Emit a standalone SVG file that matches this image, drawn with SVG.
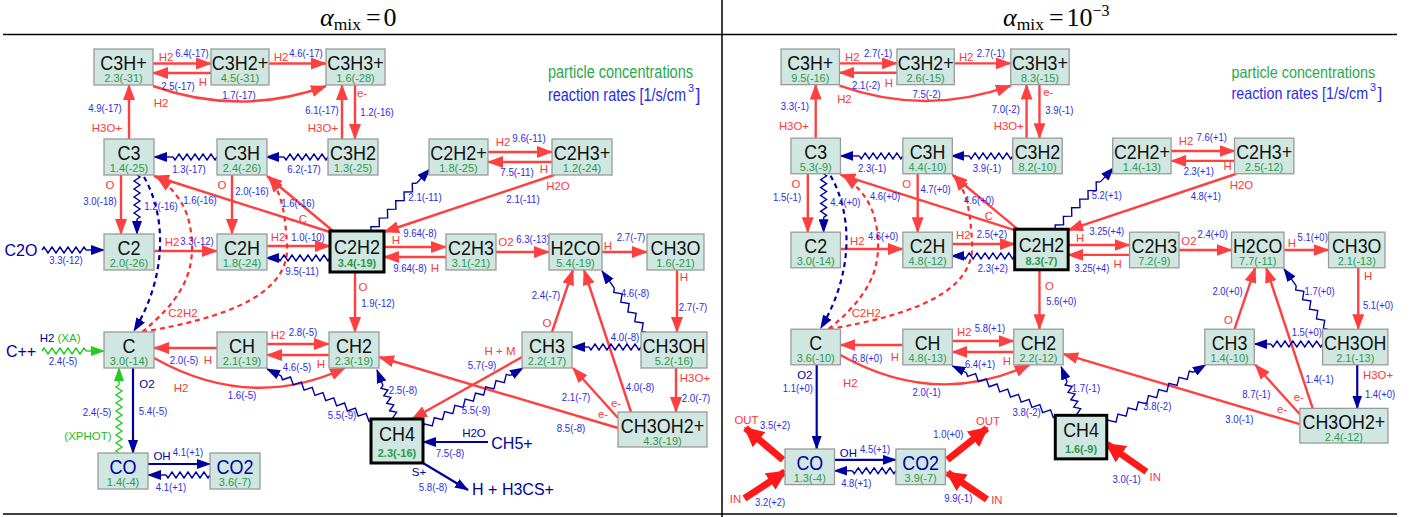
<svg xmlns="http://www.w3.org/2000/svg" xmlns:xlink="http://www.w3.org/1999/xlink" width="1416" height="517" viewBox="0 0 1416 517">
<style>
.nd rect{fill:#d0e6e0;stroke:#9a9a9a;stroke-width:1.3}
.nd.thick rect{stroke:#000;stroke-width:3}
.nm{font-family:"Liberation Sans",Arial,sans-serif;font-size:21px;fill:#111;text-anchor:middle}
.cc{font-family:"Liberation Sans",Arial,sans-serif;font-size:11px;fill:#2a9a48;text-anchor:middle}
.nd.thick .cc{font-weight:bold}
.nd.blu .nm{fill:#0000a0}
.rt{font-family:"Liberation Sans",Arial,sans-serif;font-size:11.5px;fill:#2b2be6;text-anchor:middle}
.rl{font-family:"Liberation Sans",Arial,sans-serif;font-size:11.5px;fill:#ff3838;text-anchor:middle}
.nl{font-family:"Liberation Sans",Arial,sans-serif;font-size:11.5px;fill:#0000a0;text-anchor:middle}
.gl{font-family:"Liberation Sans",Arial,sans-serif;font-size:11.5px;fill:#22bb22;text-anchor:middle}
.ext{font-family:"Liberation Sans",Arial,sans-serif;font-size:16px;fill:#0000a0;text-anchor:middle}
.lg{font-family:"Liberation Sans",Arial,sans-serif;font-size:17.5px}
.sup{font-family:"Liberation Sans",Arial,sans-serif;font-size:11px}
.ttl{font-family:"Liberation Serif","Times New Roman",serif;font-size:26px;fill:#000}
.r{fill:none;stroke:#ff4040;stroke-width:2.4;marker-end:url(#mr)}
.b{fill:none;stroke:#0000a0;stroke-width:2.2;marker-end:url(#mb)}
.dr{fill:none;stroke:#ff2a2a;stroke-width:2.2;stroke-dasharray:5 4;marker-end:url(#mr)}
.db{fill:none;stroke:#0000a0;stroke-width:2.2;stroke-dasharray:5 4;marker-end:url(#mb)}
.wb{fill:none;stroke:#0000a0;stroke-width:1.4}
.wg{fill:none;stroke:#22cc22;stroke-width:1.4}
.wb .e{marker-end:url(#mb)}
.wg .e{marker-end:url(#mg)}
.big{fill:none;stroke:#ff1a1a;stroke-width:7;marker-end:url(#mt)}
.frame line{stroke:#000;stroke-width:1.5}
</style>
<defs>
<marker id="mr" viewBox="0 0 16 12" refX="15" refY="6" markerWidth="16" markerHeight="12" markerUnits="userSpaceOnUse" orient="auto"><path d="M0 0L16 6L0 12z" fill="#ff4040"/></marker>
<marker id="mb" viewBox="0 0 14 10" refX="13" refY="5" markerWidth="14" markerHeight="10" markerUnits="userSpaceOnUse" orient="auto"><path d="M0 0L14 5L0 10z" fill="#0000a0"/></marker>
<marker id="mg" viewBox="0 0 14 10" refX="13" refY="5" markerWidth="14" markerHeight="10" markerUnits="userSpaceOnUse" orient="auto"><path d="M0 0L14 5L0 10z" fill="#22cc22"/></marker>
<marker id="mt" viewBox="0 0 20 20" refX="18" refY="10" markerWidth="20" markerHeight="20" markerUnits="userSpaceOnUse" orient="auto"><path d="M0 0L20 10L0 20z" fill="#ff1a1a"/></marker>
<path id="zh4" d="M0 0l2 -3l4 6l4 -6l4 6l4 -6l4 6l4 -6l4 6l4 -6l2 3"/>
<path id="zh5" d="M0 0l2 -3l4 6l4 -6l4 6l4 -6l4 6l4 -6l4 6l4 -6l4 6l4 -6l2 3"/>
<path id="zh6" d="M0 0l2 -3l4 6l4 -6l4 6l4 -6l4 6l4 -6l4 6l4 -6l4 6l4 -6l4 6l4 -6l2 3"/>
<path id="zh8" d="M0 0l2 -3l4 6l4 -6l4 6l4 -6l4 6l4 -6l4 6l4 -6l4 6l4 -6l4 6l4 -6l4 6l4 -6l4 6l4 -6l2 3"/>
<path id="zd4" d="M0 0l3 -3l6 6l6 -6l6 6l6 -6l6 6l6 -6l6 6l6 -6l3 3"/>
<path id="zd5" d="M0 0l3 -3l6 6l6 -6l6 6l6 -6l6 6l6 -6l6 6l6 -6l6 6l6 -6l3 3"/>
<path id="zd8" d="M0 0l3 -3l6 6l6 -6l6 6l6 -6l6 6l6 -6l6 6l6 -6l6 6l6 -6l6 6l6 -6l6 6l6 -6l6 6l6 -6l3 3"/>
</defs>
<rect width="1416" height="517" fill="#fff"/>
<g class="frame">
<line x1="3" y1="34.5" x2="1397" y2="34.5"/>
<line x1="3" y1="514" x2="1397" y2="514"/>
<line x1="722" y1="0" x2="722" y2="517"/>
</g>
<text class="ttl" x="320" y="26"><tspan font-style="italic">α</tspan><tspan font-size="17.5" dy="3.5">mix</tspan><tspan dy="-3.5" dx="5">=</tspan><tspan dx="3">0</tspan></text>
<text class="ttl" x="1003" y="26"><tspan font-style="italic">α</tspan><tspan font-size="17.5" dy="3.5">mix</tspan><tspan dy="-3.5" dx="5">=</tspan><tspan dx="3">10</tspan><tspan font-size="16" dy="-10">−3</tspan></text>

<g id="left-panel">
<g id="L-edges">
<path class="r" d="M153 63.5H211"/>
<path class="r" d="M211 73H153"/>
<path class="r" d="M269 63.5H326"/>
<path class="r" d="M153 86Q240 117 326 86"/>
<path class="r" d="M129 139V85"/>
<path class="r" d="M342 139V85"/>
<path class="r" d="M355 85V139"/>
<path class="r" d="M121 175V234"/>
<path class="r" d="M232 175V234"/>
<path class="r" d="M330 232L154 176"/>
<path class="r" d="M333 231L267 176"/>
<path class="r" d="M154 251H217"/>
<path class="r" d="M267 246H330"/>
<path class="r" d="M488 152H552"/>
<path class="r" d="M552 162H488"/>
<path class="r" d="M554 175L384 232"/>
<path class="r" d="M384 247H446"/>
<path class="r" d="M446 257H384"/>
<path class="r" d="M496 252H549"/>
<path class="r" d="M602 252H647"/>
<path class="r" d="M677 270V332"/>
<path class="r" d="M552 332L573 270"/>
<path class="r" d="M631 412L584 270"/>
<path class="r" d="M676 368V412"/>
<path class="r" d="M618 418L573 368"/>
<path class="r" d="M618 428L379 357"/>
<path class="r" d="M522 357L412 419"/>
<path class="r" d="M217 348H154"/>
<path class="r" d="M267 344H329"/>
<path class="r" d="M329 355H267"/>
<path class="r" d="M154 358Q250 412 345 368"/>
<path class="r" d="M355 272V332"/>
<path class="dr" d="M142 332C175 305 193 280 192 245C191 215 182 195 157 177"/>
<path class="dr" d="M142 332C225 318 290 295 287 245C285 215 283 195 269 177"/>
<path class="db" d="M144 177C166 215 168 275 134 331"/>
<path class="b" d="M133 368V453"/>
<path class="b" d="M148 464H210"/>
<path class="b" d="M488 442H423"/>
<path class="b" d="M423 463L468 490"/>
<g class="wb" transform="translate(217 157) rotate(180)"><use xlink:href="#zh5"/><path class="e" d="M44 0H63"/></g>
<g class="wb" transform="translate(328 157) rotate(180)"><use xlink:href="#zh5"/><path class="e" d="M44 0H62"/></g>
<g class="wb" transform="translate(137 175) rotate(90)"><use xlink:href="#zh5"/><path class="e" d="M44 0H59"/></g>
<g class="wb" transform="translate(42 250)"><use xlink:href="#zh5"/><path class="e" d="M44 0H62"/></g>
<g class="wb" transform="translate(330 258) rotate(180)"><use xlink:href="#zh6"/><path class="e" d="M52 0H64"/></g>
<g class="wb" transform="translate(371 231) rotate(-46.4)"><use xlink:href="#zd5"/><path class="e" d="M66 0H85.6"/></g>
<g class="wb" transform="translate(646 332) rotate(-125.8)"><use xlink:href="#zd4"/><path class="e" d="M54 0H75.2"/></g>
<g class="wb" transform="translate(641 347) rotate(180)"><use xlink:href="#zh6"/><path class="e" d="M52 0H69"/></g>
<g class="wb" transform="translate(423 428) rotate(-31)"><use xlink:href="#zd8"/><path class="e" d="M102 0H116.6"/></g>
<g class="wb" transform="translate(396 419) rotate(-111.2)"><use xlink:href="#zh4"/><path class="e" d="M36 0H52.6"/></g>
<g class="wb" transform="translate(373 420) rotate(-154.3)"><use xlink:href="#zd8"/><path class="e" d="M102 0H117.6"/></g>
<g class="wg" transform="translate(119 453) rotate(-90)"><use xlink:href="#zh8"/><path class="e" d="M68 0H85"/></g>
<g class="wg" transform="translate(42 351)"><use xlink:href="#zh5"/><path class="e" d="M44 0H62"/></g>
<g class="wb" transform="translate(210 475) rotate(180)"><use xlink:href="#zh5"/><path class="e" d="M44 0H62"/></g>
</g>
<g id="L-labels">
<text class="rt" x="192" y="57" textLength="33.5" lengthAdjust="spacingAndGlyphs">6.4(-17)</text>
<text class="rt" x="178" y="90" textLength="33.5" lengthAdjust="spacingAndGlyphs">2.5(-17)</text>
<text class="rt" x="306" y="57" textLength="33.5" lengthAdjust="spacingAndGlyphs">4.6(-17)</text>
<text class="rt" x="239" y="99" textLength="33.5" lengthAdjust="spacingAndGlyphs">1.7(-17)</text>
<text class="rt" x="105" y="112" textLength="33.5" lengthAdjust="spacingAndGlyphs">4.9(-17)</text>
<text class="rt" x="322" y="114" textLength="33.5" lengthAdjust="spacingAndGlyphs">6.1(-17)</text>
<text class="rt" x="377" y="116" textLength="33.5" lengthAdjust="spacingAndGlyphs">1.2(-16)</text>
<text class="rt" x="189" y="173" textLength="33.5" lengthAdjust="spacingAndGlyphs">1.3(-17)</text>
<text class="rt" x="304" y="173" textLength="33.5" lengthAdjust="spacingAndGlyphs">6.2(-17)</text>
<text class="rt" x="100" y="205" textLength="33.5" lengthAdjust="spacingAndGlyphs">3.0(-18)</text>
<text class="rt" x="161" y="210" textLength="33.5" lengthAdjust="spacingAndGlyphs">1.2(-16)</text>
<text class="rt" x="252" y="195" textLength="33.5" lengthAdjust="spacingAndGlyphs">2.0(-16)</text>
<text class="rt" x="200" y="204" textLength="33.5" lengthAdjust="spacingAndGlyphs">1.6(-16)</text>
<text class="rt" x="298" y="207" textLength="33.5" lengthAdjust="spacingAndGlyphs">1.6(-16)</text>
<text class="rt" x="197" y="245" textLength="33.5" lengthAdjust="spacingAndGlyphs">3.3(-12)</text>
<text class="rt" x="66" y="264" textLength="33.5" lengthAdjust="spacingAndGlyphs">3.3(-12)</text>
<text class="rt" x="308" y="241" textLength="33.5" lengthAdjust="spacingAndGlyphs">1.0(-10)</text>
<text class="rt" x="302" y="275" textLength="33.5" lengthAdjust="spacingAndGlyphs">9.5(-11)</text>
<text class="rt" x="425" y="201" textLength="33.5" lengthAdjust="spacingAndGlyphs">2.1(-11)</text>
<text class="rt" x="529" y="142" textLength="33.5" lengthAdjust="spacingAndGlyphs">9.6(-11)</text>
<text class="rt" x="517" y="176" textLength="33.5" lengthAdjust="spacingAndGlyphs">7.5(-11)</text>
<text class="rt" x="523" y="203" textLength="33.5" lengthAdjust="spacingAndGlyphs">2.1(-11)</text>
<text class="rt" x="420" y="237" textLength="33.5" lengthAdjust="spacingAndGlyphs">9.64(-8)</text>
<text class="rt" x="410" y="272" textLength="33.5" lengthAdjust="spacingAndGlyphs">9.64(-8)</text>
<text class="rt" x="533" y="243" textLength="33.5" lengthAdjust="spacingAndGlyphs">6.3(-13)</text>
<text class="rt" x="631" y="241" textLength="28.5" lengthAdjust="spacingAndGlyphs">2.7(-7)</text>
<text class="rt" x="693" y="311" textLength="28.5" lengthAdjust="spacingAndGlyphs">2.7(-7)</text>
<text class="rt" x="635" y="297" textLength="28.5" lengthAdjust="spacingAndGlyphs">4.6(-8)</text>
<text class="rt" x="625" y="341" textLength="28.5" lengthAdjust="spacingAndGlyphs">4.0(-8)</text>
<text class="rt" x="546" y="299" textLength="28.5" lengthAdjust="spacingAndGlyphs">2.4(-7)</text>
<text class="rt" x="640" y="391" textLength="28.5" lengthAdjust="spacingAndGlyphs">4.0(-8)</text>
<text class="rt" x="696" y="402" textLength="28.5" lengthAdjust="spacingAndGlyphs">2.0(-7)</text>
<text class="rt" x="576" y="401" textLength="28.5" lengthAdjust="spacingAndGlyphs">2.1(-7)</text>
<text class="rt" x="571" y="432" textLength="28.5" lengthAdjust="spacingAndGlyphs">8.5(-8)</text>
<text class="rt" x="482" y="369" textLength="28.5" lengthAdjust="spacingAndGlyphs">5.7(-9)</text>
<text class="rt" x="476" y="414" textLength="28.5" lengthAdjust="spacingAndGlyphs">5.5(-9)</text>
<text class="rt" x="403" y="394" textLength="28.5" lengthAdjust="spacingAndGlyphs">2.5(-8)</text>
<text class="rt" x="342" y="419" textLength="28.5" lengthAdjust="spacingAndGlyphs">5.5(-9)</text>
<text class="rt" x="450" y="457" textLength="28.5" lengthAdjust="spacingAndGlyphs">7.5(-8)</text>
<text class="rt" x="433" y="491" textLength="28.5" lengthAdjust="spacingAndGlyphs">5.8(-8)</text>
<text class="rt" x="184" y="364" textLength="28.5" lengthAdjust="spacingAndGlyphs">2.0(-5)</text>
<text class="rt" x="303" y="336" textLength="28.5" lengthAdjust="spacingAndGlyphs">2.8(-5)</text>
<text class="rt" x="297" y="371" textLength="28.5" lengthAdjust="spacingAndGlyphs">4.6(-5)</text>
<text class="rt" x="242" y="399" textLength="28.5" lengthAdjust="spacingAndGlyphs">1.6(-5)</text>
<text class="rt" x="378" y="307" textLength="33.5" lengthAdjust="spacingAndGlyphs">1.9(-12)</text>
<text class="rt" x="153" y="415" textLength="28.5" lengthAdjust="spacingAndGlyphs">5.4(-5)</text>
<text class="rt" x="97" y="416" textLength="28.5" lengthAdjust="spacingAndGlyphs">2.4(-5)</text>
<text class="rt" x="63" y="365" textLength="28.5" lengthAdjust="spacingAndGlyphs">2.4(-5)</text>
<text class="rt" x="188" y="456" textLength="30.5" lengthAdjust="spacingAndGlyphs">4.1(+1)</text>
<text class="rt" x="171" y="491" textLength="30.5" lengthAdjust="spacingAndGlyphs">4.1(+1)</text>
<text class="rl" x="166" y="61">H2</text>
<text class="rl" x="203" y="86">H</text>
<text class="rl" x="281" y="61">H2</text>
<text class="rl" x="161" y="107">H2</text>
<text class="rl" x="107" y="132">H3O+</text>
<text class="rl" x="323" y="132">H3O+</text>
<text class="rl" x="362" y="97">e-</text>
<text class="rl" x="110" y="189">O</text>
<text class="rl" x="222" y="189">O</text>
<text class="rl" x="303" y="223">C</text>
<text class="rl" x="172" y="246">H2</text>
<text class="rl" x="278" y="241">H2</text>
<text class="rl" x="503" y="146">H2</text>
<text class="rl" x="544" y="173">H</text>
<text class="rl" x="558" y="190">H2O</text>
<text class="rl" x="396" y="244">H</text>
<text class="rl" x="435" y="272">H</text>
<text class="rl" x="506" y="246">O2</text>
<text class="rl" x="608" y="250">H</text>
<text class="rl" x="684" y="281">H</text>
<text class="rl" x="547" y="327">O</text>
<text class="rl" x="695" y="382">H3O+</text>
<text class="rl" x="616" y="407">e-</text>
<text class="rl" x="603" y="418">e-</text>
<text class="rl" x="500" y="355">H + M</text>
<text class="rl" x="208" y="364">H</text>
<text class="rl" x="278" y="339">H2</text>
<text class="rl" x="321" y="368">H</text>
<text class="rl" x="181" y="392">H2</text>
<text class="rl" x="363" y="291">O</text>
<text class="rl" x="183" y="317">C2H2</text>
<text class="nl" x="474" y="437">H2O</text>
<text class="nl" x="419" y="476">S+</text>
<text class="nl" x="147" y="388">O2</text>
<text class="nl" x="47" y="342">H2</text>
<text class="nl" x="162" y="460">OH</text>
<text class="gl" x="69" y="342">(XA)</text>
<text class="gl" x="88" y="440">(XPHOT)</text>
<text class="ext" x="21" y="256">C2O</text>
<text class="ext" x="21" y="357">C++</text>
<text class="ext" x="512" y="449">CH5+</text>
<text class="ext" x="513" y="495">H + H3CS+</text>
<text class="lg" x="548" y="78" fill="#2aa84a" textLength="145" lengthAdjust="spacingAndGlyphs">particle concentrations</text>
<text class="lg" x="548" y="101" fill="#2b2be6" textLength="138" lengthAdjust="spacingAndGlyphs">reaction rates [1/s/cm</text>
<text class="sup" x="688" y="92" fill="#2b2be6">3</text>
<text class="lg" x="695.5" y="101" fill="#2b2be6">]</text>
</g>
<g id="L-nodes">
<g id="L-C3Hp" class="nd"><rect x="94" y="49" width="59" height="36"/><text class="nm" x="123.5" y="70" textLength="46.5" lengthAdjust="spacingAndGlyphs">C3H+</text><text class="cc" x="123.5" y="82">2.3(-31)</text></g>
<g id="L-C3H2p" class="nd"><rect x="211" y="49" width="58" height="36"/><text class="nm" x="240" y="70" textLength="56.5" lengthAdjust="spacingAndGlyphs">C3H2+</text><text class="cc" x="240" y="82">4.5(-31)</text></g>
<g id="L-C3H3p" class="nd"><rect x="326" y="49" width="59" height="36"/><text class="nm" x="355.5" y="70" textLength="56.5" lengthAdjust="spacingAndGlyphs">C3H3+</text><text class="cc" x="355.5" y="82">1.6(-28)</text></g>
<g id="L-C3" class="nd"><rect x="104" y="139" width="50" height="36"/><text class="nm" x="129" y="160" textLength="23" lengthAdjust="spacingAndGlyphs">C3</text><text class="cc" x="129" y="172">1.4(-25)</text></g>
<g id="L-C3H" class="nd"><rect x="217" y="139" width="50" height="36"/><text class="nm" x="242" y="160" textLength="36" lengthAdjust="spacingAndGlyphs">C3H</text><text class="cc" x="242" y="172">2.4(-26)</text></g>
<g id="L-C3H2" class="nd"><rect x="328" y="139" width="50" height="36"/><text class="nm" x="353" y="160" textLength="46" lengthAdjust="spacingAndGlyphs">C3H2</text><text class="cc" x="353" y="172">1.3(-25)</text></g>
<g id="L-C2H2p" class="nd"><rect x="429" y="139" width="59" height="36"/><text class="nm" x="458.5" y="160" textLength="56.5" lengthAdjust="spacingAndGlyphs">C2H2+</text><text class="cc" x="458.5" y="172">1.8(-25)</text></g>
<g id="L-C2H3p" class="nd"><rect x="552" y="139" width="60" height="36"/><text class="nm" x="582" y="160" textLength="56.5" lengthAdjust="spacingAndGlyphs">C2H3+</text><text class="cc" x="582" y="172">1.2(-24)</text></g>
<g id="L-C2" class="nd"><rect x="104" y="234" width="50" height="36"/><text class="nm" x="129" y="255" textLength="23" lengthAdjust="spacingAndGlyphs">C2</text><text class="cc" x="129" y="267">2.0(-26)</text></g>
<g id="L-C2H" class="nd"><rect x="217" y="234" width="50" height="36"/><text class="nm" x="242" y="255" textLength="36" lengthAdjust="spacingAndGlyphs">C2H</text><text class="cc" x="242" y="267">1.8(-24)</text></g>
<g id="L-C2H2" class="nd thick"><rect x="330" y="231" width="54" height="41"/><text class="nm" x="357" y="254" textLength="46" lengthAdjust="spacingAndGlyphs">C2H2</text><text class="cc" x="357" y="267">3.4(-19)</text></g>
<g id="L-C2H3" class="nd"><rect x="446" y="234" width="50" height="36"/><text class="nm" x="471" y="255" textLength="46" lengthAdjust="spacingAndGlyphs">C2H3</text><text class="cc" x="471" y="267">3.1(-21)</text></g>
<g id="L-H2CO" class="nd"><rect x="549" y="234" width="53" height="36"/><text class="nm" x="575.5" y="255" textLength="50" lengthAdjust="spacingAndGlyphs">H2CO</text><text class="cc" x="575.5" y="267">5.4(-19)</text></g>
<g id="L-CH3O" class="nd"><rect x="647" y="234" width="57" height="36"/><text class="nm" x="675.5" y="255" textLength="50" lengthAdjust="spacingAndGlyphs">CH3O</text><text class="cc" x="675.5" y="267">1.6(-21)</text></g>
<g id="L-C" class="nd"><rect x="104" y="332" width="50" height="36"/><text class="nm" x="129" y="353" textLength="13" lengthAdjust="spacingAndGlyphs">C</text><text class="cc" x="129" y="365">3.0(-14)</text></g>
<g id="L-CH" class="nd"><rect x="217" y="332" width="50" height="36"/><text class="nm" x="242" y="353" textLength="26" lengthAdjust="spacingAndGlyphs">CH</text><text class="cc" x="242" y="365">2.1(-19)</text></g>
<g id="L-CH2" class="nd"><rect x="329" y="332" width="50" height="36"/><text class="nm" x="354" y="353" textLength="36" lengthAdjust="spacingAndGlyphs">CH2</text><text class="cc" x="354" y="365">2.3(-19)</text></g>
<g id="L-CH3" class="nd"><rect x="522" y="332" width="50" height="36"/><text class="nm" x="547" y="353" textLength="36" lengthAdjust="spacingAndGlyphs">CH3</text><text class="cc" x="547" y="365">2.2(-17)</text></g>
<g id="L-CH3OH" class="nd"><rect x="641" y="332" width="66" height="36"/><text class="nm" x="674" y="353" textLength="63" lengthAdjust="spacingAndGlyphs">CH3OH</text><text class="cc" x="674" y="365">5.2(-16)</text></g>
<g id="L-CH3OH2p" class="nd"><rect x="618" y="412" width="89" height="35"/><text class="nm" x="662.5" y="433" textLength="83.5" lengthAdjust="spacingAndGlyphs">CH3OH2+</text><text class="cc" x="662.5" y="445">4.3(-19)</text></g>
<g id="L-CH4" class="nd thick"><rect x="371" y="419" width="52" height="44"/><text class="nm" x="397" y="441" textLength="36" lengthAdjust="spacingAndGlyphs">CH4</text><text class="cc" x="397" y="457">2.3(-16)</text></g>
<g id="L-CO" class="nd blu"><rect x="98" y="453" width="50" height="36"/><text class="nm" x="123" y="474" textLength="27" lengthAdjust="spacingAndGlyphs">CO</text><text class="cc" x="123" y="486">1.4(-4)</text></g>
<g id="L-CO2" class="nd blu"><rect x="210" y="453" width="50" height="36"/><text class="nm" x="235" y="474" textLength="37" lengthAdjust="spacingAndGlyphs">CO2</text><text class="cc" x="235" y="486">3.6(-7)</text></g>
</g>
</g>

<g id="right-panel" transform="translate(688 0.5) scale(0.99)">
<g id="R-edges">
<path class="r" d="M153 63.5H211"/>
<path class="r" d="M211 73H153"/>
<path class="r" d="M269 63.5H326"/>
<path class="r" d="M153 86Q240 117 326 86"/>
<path class="r" d="M129 139V85"/>
<path class="r" d="M342 139V85"/>
<path class="r" d="M355 85V139"/>
<path class="r" d="M121 175V234"/>
<path class="r" d="M232 175V234"/>
<path class="r" d="M330 232L154 176"/>
<path class="r" d="M333 231L267 176"/>
<path class="r" d="M154 251H217"/>
<path class="r" d="M267 246H330"/>
<path class="r" d="M488 152H552"/>
<path class="r" d="M552 162H488"/>
<path class="r" d="M554 175L384 232"/>
<path class="r" d="M384 247H446"/>
<path class="r" d="M446 257H384"/>
<path class="r" d="M496 252H549"/>
<path class="r" d="M602 252H647"/>
<path class="r" d="M677 270V332"/>
<path class="r" d="M552 332L573 270"/>
<path class="r" d="M631 412L584 270"/>
<path class="b" d="M676 368V412"/>
<path class="r" d="M618 418L573 368"/>
<path class="r" d="M618 428L379 357"/>
<path class="r" d="M217 348H154"/>
<path class="r" d="M267 344H329"/>
<path class="r" d="M329 355H267"/>
<path class="r" d="M154 358Q250 412 345 368"/>
<path class="r" d="M355 272V332"/>
<path class="dr" d="M142 332C175 305 193 280 192 245C191 215 182 195 157 177"/>
<path class="dr" d="M142 332C225 318 290 295 287 245C285 215 283 195 269 177"/>
<path class="db" d="M144 177C166 215 168 275 134 331"/>
<path class="b" d="M130 368V453"/>
<path class="b" d="M148 464H210"/>
<path class="big" d="M96 464L58 432"/>
<path class="big" d="M57 503L98 476"/>
<path class="big" d="M262 464L302 432"/>
<path class="big" d="M302 504L262 477"/>
<path class="big" d="M463 476L423 448"/>
<g class="wb" transform="translate(217 157) rotate(180)"><use xlink:href="#zh5"/><path class="e" d="M44 0H63"/></g>
<g class="wb" transform="translate(328 157) rotate(180)"><use xlink:href="#zh5"/><path class="e" d="M44 0H62"/></g>
<g class="wb" transform="translate(137 175) rotate(90)"><use xlink:href="#zh5"/><path class="e" d="M44 0H59"/></g>
<g class="wb" transform="translate(330 258) rotate(180)"><use xlink:href="#zh6"/><path class="e" d="M52 0H64"/></g>
<g class="wb" transform="translate(371 231) rotate(-46.4)"><use xlink:href="#zd5"/><path class="e" d="M66 0H85.6"/></g>
<g class="wb" transform="translate(646 332) rotate(-125.8)"><use xlink:href="#zd4"/><path class="e" d="M54 0H75.2"/></g>
<g class="wb" transform="translate(641 347) rotate(180)"><use xlink:href="#zh6"/><path class="e" d="M52 0H69"/></g>
<g class="wb" transform="translate(423 428) rotate(-31)"><use xlink:href="#zd8"/><path class="e" d="M102 0H116.6"/></g>
<g class="wb" transform="translate(396 419) rotate(-111.2)"><use xlink:href="#zh4"/><path class="e" d="M36 0H52.6"/></g>
<g class="wb" transform="translate(373 420) rotate(-154.3)"><use xlink:href="#zd8"/><path class="e" d="M102 0H117.6"/></g>
<g class="wb" transform="translate(210 475) rotate(180)"><use xlink:href="#zh5"/><path class="e" d="M44 0H62"/></g>
</g>
<g id="R-labels">
<text class="rt" x="192" y="57" textLength="28.5" lengthAdjust="spacingAndGlyphs">2.7(-1)</text>
<text class="rt" x="180" y="89" textLength="28.5" lengthAdjust="spacingAndGlyphs">2.1(-2)</text>
<text class="rt" x="306" y="57" textLength="28.5" lengthAdjust="spacingAndGlyphs">2.7(-1)</text>
<text class="rt" x="241" y="98" textLength="28.5" lengthAdjust="spacingAndGlyphs">7.5(-2)</text>
<text class="rt" x="108" y="111" textLength="28.5" lengthAdjust="spacingAndGlyphs">3.3(-1)</text>
<text class="rt" x="321" y="114" textLength="28.5" lengthAdjust="spacingAndGlyphs">7.0(-2)</text>
<text class="rt" x="375" y="115" textLength="28.5" lengthAdjust="spacingAndGlyphs">3.9(-1)</text>
<text class="rt" x="186" y="173" textLength="28.5" lengthAdjust="spacingAndGlyphs">2.3(-1)</text>
<text class="rt" x="302" y="173" textLength="28.5" lengthAdjust="spacingAndGlyphs">3.9(-1)</text>
<text class="rt" x="100" y="203" textLength="28.5" lengthAdjust="spacingAndGlyphs">1.5(-1)</text>
<text class="rt" x="159" y="208" textLength="30.5" lengthAdjust="spacingAndGlyphs">4.4(+0)</text>
<text class="rt" x="250" y="194" textLength="30.5" lengthAdjust="spacingAndGlyphs">4.7(+0)</text>
<text class="rt" x="199" y="202" textLength="30.5" lengthAdjust="spacingAndGlyphs">4.6(+0)</text>
<text class="rt" x="294" y="206" textLength="30.5" lengthAdjust="spacingAndGlyphs">4.6(+0)</text>
<text class="rt" x="197" y="242" textLength="30.5" lengthAdjust="spacingAndGlyphs">4.6(+0)</text>
<text class="rt" x="307" y="240" textLength="30.5" lengthAdjust="spacingAndGlyphs">2.5(+2)</text>
<text class="rt" x="308" y="274" textLength="30.5" lengthAdjust="spacingAndGlyphs">2.3(+2)</text>
<text class="rt" x="423" y="201" textLength="30.5" lengthAdjust="spacingAndGlyphs">5.2(+1)</text>
<text class="rt" x="529" y="142" textLength="30.5" lengthAdjust="spacingAndGlyphs">7.6(+1)</text>
<text class="rt" x="516" y="176" textLength="30.5" lengthAdjust="spacingAndGlyphs">2.3(+1)</text>
<text class="rt" x="523" y="202" textLength="30.5" lengthAdjust="spacingAndGlyphs">4.8(+1)</text>
<text class="rt" x="423" y="237" textLength="35" lengthAdjust="spacingAndGlyphs">3.25(+4)</text>
<text class="rt" x="408" y="274" textLength="35" lengthAdjust="spacingAndGlyphs">3.25(+4)</text>
<text class="rt" x="530" y="240" textLength="30.5" lengthAdjust="spacingAndGlyphs">2.4(+0)</text>
<text class="rt" x="631" y="243" textLength="30.5" lengthAdjust="spacingAndGlyphs">5.1(+0)</text>
<text class="rt" x="697" y="312" textLength="30.5" lengthAdjust="spacingAndGlyphs">5.1(+0)</text>
<text class="rt" x="638" y="297" textLength="30.5" lengthAdjust="spacingAndGlyphs">1.7(+0)</text>
<text class="rt" x="625" y="339" textLength="30.5" lengthAdjust="spacingAndGlyphs">1.5(+0)</text>
<text class="rt" x="545" y="297" textLength="30.5" lengthAdjust="spacingAndGlyphs">2.0(+0)</text>
<text class="rt" x="638" y="386" textLength="28.5" lengthAdjust="spacingAndGlyphs">1.4(-1)</text>
<text class="rt" x="699" y="402" textLength="30.5" lengthAdjust="spacingAndGlyphs">1.4(+0)</text>
<text class="rt" x="574" y="402" textLength="28.5" lengthAdjust="spacingAndGlyphs">8.7(-1)</text>
<text class="rt" x="557" y="427" textLength="28.5" lengthAdjust="spacingAndGlyphs">3.0(-1)</text>
<text class="rt" x="474" y="414" textLength="28.5" lengthAdjust="spacingAndGlyphs">3.8(-2)</text>
<text class="rt" x="402" y="395" textLength="28.5" lengthAdjust="spacingAndGlyphs">1.7(-1)</text>
<text class="rt" x="342" y="420" textLength="28.5" lengthAdjust="spacingAndGlyphs">3.8(-2)</text>
<text class="rt" x="377" y="308" textLength="30.5" lengthAdjust="spacingAndGlyphs">5.6(+0)</text>
<text class="rt" x="181" y="365" textLength="30.5" lengthAdjust="spacingAndGlyphs">6.8(+0)</text>
<text class="rt" x="305" y="335" textLength="30.5" lengthAdjust="spacingAndGlyphs">5.8(+1)</text>
<text class="rt" x="295" y="371" textLength="30.5" lengthAdjust="spacingAndGlyphs">6.4(+1)</text>
<text class="rt" x="241" y="400" textLength="28.5" lengthAdjust="spacingAndGlyphs">2.0(-1)</text>
<text class="rt" x="111" y="395" textLength="30.5" lengthAdjust="spacingAndGlyphs">1.1(+0)</text>
<text class="rt" x="189" y="457" textLength="30.5" lengthAdjust="spacingAndGlyphs">4.5(+1)</text>
<text class="rt" x="170" y="491" textLength="30.5" lengthAdjust="spacingAndGlyphs">4.8(+1)</text>
<text class="rt" x="88" y="433" textLength="30.5" lengthAdjust="spacingAndGlyphs">3.5(+2)</text>
<text class="rt" x="83" y="511" textLength="30.5" lengthAdjust="spacingAndGlyphs">3.2(+2)</text>
<text class="rt" x="263" y="442" textLength="30.5" lengthAdjust="spacingAndGlyphs">1.0(+0)</text>
<text class="rt" x="273" y="507" textLength="28.5" lengthAdjust="spacingAndGlyphs">9.9(-1)</text>
<text class="rt" x="443" y="487" textLength="28.5" lengthAdjust="spacingAndGlyphs">3.0(-1)</text>
<text class="rl" x="166" y="61">H2</text>
<text class="rl" x="203" y="87">H</text>
<text class="rl" x="281" y="61">H2</text>
<text class="rl" x="158" y="104">H2</text>
<text class="rl" x="107" y="131">H3O+</text>
<text class="rl" x="324" y="131">H3O+</text>
<text class="rl" x="364" y="96">e-</text>
<text class="rl" x="109" y="189">O</text>
<text class="rl" x="221" y="189">O</text>
<text class="rl" x="304" y="222">C</text>
<text class="rl" x="171" y="247">H2</text>
<text class="rl" x="278" y="241">H2</text>
<text class="rl" x="503" y="146">H2</text>
<text class="rl" x="545" y="171">H</text>
<text class="rl" x="559" y="190">H2O</text>
<text class="rl" x="396" y="244">H</text>
<text class="rl" x="434" y="270">H</text>
<text class="rl" x="506" y="247">O2</text>
<text class="rl" x="610" y="249">H</text>
<text class="rl" x="687" y="282">H</text>
<text class="rl" x="546" y="327">O</text>
<text class="rl" x="697" y="382">H3O+</text>
<text class="rl" x="617" y="405">e-</text>
<text class="rl" x="600" y="417">e-</text>
<text class="rl" x="209" y="364">H</text>
<text class="rl" x="279" y="339">H2</text>
<text class="rl" x="322" y="368">H</text>
<text class="rl" x="164" y="390">H2</text>
<text class="rl" x="365" y="292">O</text>
<text class="rl" x="180" y="320">C2H2</text>
<text class="rl" x="59" y="428">OUT</text>
<text class="rl" x="48" y="508">IN</text>
<text class="rl" x="303" y="429">OUT</text>
<text class="rl" x="312" y="509">IN</text>
<text class="rl" x="472" y="485">IN</text>
<text class="nl" x="118" y="382">O2</text>
<text class="nl" x="162" y="461">OH</text>
<text class="lg" x="549" y="78" fill="#2aa84a" textLength="145" lengthAdjust="spacingAndGlyphs">particle concentrations</text>
<text class="lg" x="549" y="100" fill="#2b2be6" textLength="138" lengthAdjust="spacingAndGlyphs">reaction rates [1/s/cm</text>
<text class="sup" x="689" y="91" fill="#2b2be6">3</text>
<text class="lg" x="696.5" y="100" fill="#2b2be6">]</text>
</g>
<g id="R-nodes">
<g id="R-C3Hp" class="nd"><rect x="94" y="49" width="59" height="36"/><text class="nm" x="123.5" y="70" textLength="46.5" lengthAdjust="spacingAndGlyphs">C3H+</text><text class="cc" x="123.5" y="82">9.5(-16)</text></g>
<g id="R-C3H2p" class="nd"><rect x="211" y="49" width="58" height="36"/><text class="nm" x="240" y="70" textLength="56.5" lengthAdjust="spacingAndGlyphs">C3H2+</text><text class="cc" x="240" y="82">2.6(-15)</text></g>
<g id="R-C3H3p" class="nd"><rect x="326" y="49" width="59" height="36"/><text class="nm" x="355.5" y="70" textLength="56.5" lengthAdjust="spacingAndGlyphs">C3H3+</text><text class="cc" x="355.5" y="82">8.3(-15)</text></g>
<g id="R-C3" class="nd"><rect x="104" y="139" width="50" height="36"/><text class="nm" x="129" y="160" textLength="23" lengthAdjust="spacingAndGlyphs">C3</text><text class="cc" x="129" y="172">5.3(-9)</text></g>
<g id="R-C3H" class="nd"><rect x="217" y="139" width="50" height="36"/><text class="nm" x="242" y="160" textLength="36" lengthAdjust="spacingAndGlyphs">C3H</text><text class="cc" x="242" y="172">4.4(-10)</text></g>
<g id="R-C3H2" class="nd"><rect x="328" y="139" width="50" height="36"/><text class="nm" x="353" y="160" textLength="46" lengthAdjust="spacingAndGlyphs">C3H2</text><text class="cc" x="353" y="172">8.2(-10)</text></g>
<g id="R-C2H2p" class="nd"><rect x="429" y="139" width="59" height="36"/><text class="nm" x="458.5" y="160" textLength="56.5" lengthAdjust="spacingAndGlyphs">C2H2+</text><text class="cc" x="458.5" y="172">1.4(-13)</text></g>
<g id="R-C2H3p" class="nd"><rect x="552" y="139" width="60" height="36"/><text class="nm" x="582" y="160" textLength="56.5" lengthAdjust="spacingAndGlyphs">C2H3+</text><text class="cc" x="582" y="172">2.5(-12)</text></g>
<g id="R-C2" class="nd"><rect x="104" y="234" width="50" height="36"/><text class="nm" x="129" y="255" textLength="23" lengthAdjust="spacingAndGlyphs">C2</text><text class="cc" x="129" y="267">3.0(-14)</text></g>
<g id="R-C2H" class="nd"><rect x="217" y="234" width="50" height="36"/><text class="nm" x="242" y="255" textLength="36" lengthAdjust="spacingAndGlyphs">C2H</text><text class="cc" x="242" y="267">4.8(-12)</text></g>
<g id="R-C2H2" class="nd thick"><rect x="330" y="231" width="54" height="41"/><text class="nm" x="357" y="254" textLength="46" lengthAdjust="spacingAndGlyphs">C2H2</text><text class="cc" x="357" y="267">8.3(-7)</text></g>
<g id="R-C2H3" class="nd"><rect x="446" y="234" width="50" height="36"/><text class="nm" x="471" y="255" textLength="46" lengthAdjust="spacingAndGlyphs">C2H3</text><text class="cc" x="471" y="267">7.2(-9)</text></g>
<g id="R-H2CO" class="nd"><rect x="549" y="234" width="53" height="36"/><text class="nm" x="575.5" y="255" textLength="50" lengthAdjust="spacingAndGlyphs">H2CO</text><text class="cc" x="575.5" y="267">7.7(-11)</text></g>
<g id="R-CH3O" class="nd"><rect x="647" y="234" width="57" height="36"/><text class="nm" x="675.5" y="255" textLength="50" lengthAdjust="spacingAndGlyphs">CH3O</text><text class="cc" x="675.5" y="267">2.1(-13)</text></g>
<g id="R-C" class="nd"><rect x="104" y="332" width="50" height="36"/><text class="nm" x="129" y="353" textLength="13" lengthAdjust="spacingAndGlyphs">C</text><text class="cc" x="129" y="365">3.6(-10)</text></g>
<g id="R-CH" class="nd"><rect x="217" y="332" width="50" height="36"/><text class="nm" x="242" y="353" textLength="26" lengthAdjust="spacingAndGlyphs">CH</text><text class="cc" x="242" y="365">4.8(-13)</text></g>
<g id="R-CH2" class="nd"><rect x="329" y="332" width="50" height="36"/><text class="nm" x="354" y="353" textLength="36" lengthAdjust="spacingAndGlyphs">CH2</text><text class="cc" x="354" y="365">2.2(-12)</text></g>
<g id="R-CH3" class="nd"><rect x="522" y="332" width="50" height="36"/><text class="nm" x="547" y="353" textLength="36" lengthAdjust="spacingAndGlyphs">CH3</text><text class="cc" x="547" y="365">1.4(-10)</text></g>
<g id="R-CH3OH" class="nd"><rect x="641" y="332" width="66" height="36"/><text class="nm" x="674" y="353" textLength="63" lengthAdjust="spacingAndGlyphs">CH3OH</text><text class="cc" x="674" y="365">2.1(-13)</text></g>
<g id="R-CH3OH2p" class="nd"><rect x="618" y="412" width="89" height="35"/><text class="nm" x="662.5" y="433" textLength="83.5" lengthAdjust="spacingAndGlyphs">CH3OH2+</text><text class="cc" x="662.5" y="445">2.4(-12)</text></g>
<g id="R-CH4" class="nd thick"><rect x="371" y="419" width="52" height="44"/><text class="nm" x="397" y="441" textLength="36" lengthAdjust="spacingAndGlyphs">CH4</text><text class="cc" x="397" y="457">1.6(-9)</text></g>
<g id="R-CO" class="nd blu"><rect x="98" y="453" width="50" height="36"/><text class="nm" x="123" y="474" textLength="27" lengthAdjust="spacingAndGlyphs">CO</text><text class="cc" x="123" y="486">1.3(-4)</text></g>
<g id="R-CO2" class="nd blu"><rect x="210" y="453" width="50" height="36"/><text class="nm" x="235" y="474" textLength="37" lengthAdjust="spacingAndGlyphs">CO2</text><text class="cc" x="235" y="486">3.9(-7)</text></g>
</g>
</g>
</svg>
